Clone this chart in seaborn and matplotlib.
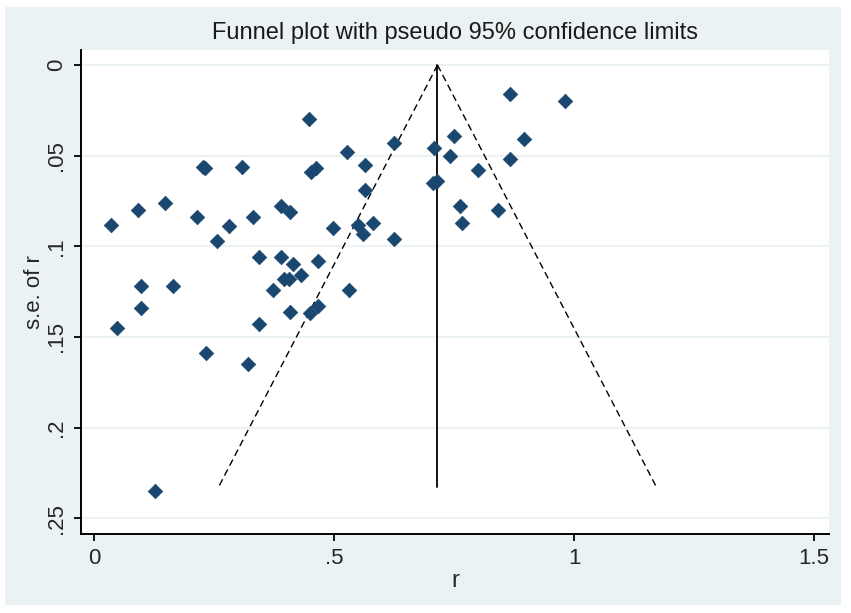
import numpy as np
import pandas as pd
import seaborn as sns
import matplotlib.pyplot as plt
from matplotlib.patches import Rectangle

# effect sizes (r) and their standard errors
r = [0.127, 0.035, 0.091, 0.148, 0.214, 0.227, 0.230, 0.308, 0.256, 0.280,
     0.331, 0.447, 0.451, 0.461, 0.526, 0.564, 0.564, 0.388, 0.407, 0.498,
     0.550, 0.559, 0.581, 0.625, 0.625, 0.343, 0.389, 0.414, 0.467, 0.395,
     0.405, 0.430, 0.097, 0.163, 0.373, 0.531, 0.097, 0.408, 0.449, 0.467,
     0.046, 0.343, 0.233, 0.321, 0.867, 0.980, 0.750, 0.896, 0.708, 0.742,
     0.867, 0.799, 0.705, 0.714, 0.761, 0.841, 0.766]
se = [0.235, 0.088, 0.080, 0.076, 0.084, 0.056, 0.057, 0.056, 0.097, 0.089,
      0.084, 0.030, 0.059, 0.057, 0.048, 0.055, 0.069, 0.078, 0.081, 0.090,
      0.088, 0.093, 0.087, 0.043, 0.096, 0.106, 0.106, 0.110, 0.108, 0.118,
      0.118, 0.116, 0.122, 0.122, 0.124, 0.124, 0.134, 0.136, 0.137, 0.133,
      0.145, 0.143, 0.159, 0.165, 0.016, 0.020, 0.039, 0.041, 0.046, 0.050,
      0.052, 0.058, 0.065, 0.064, 0.078, 0.080, 0.087]

pooled = 0.715   # fixed effect estimate (vertical line)
se_max = 0.233   # where the funnel stops

x_ticks = [0, 0.5, 1, 1.5]
x_labels = ["0", ".5", "1", "1.5"]
y_ticks = [0, 0.05, 0.1, 0.15, 0.2, 0.25]
y_labels = ["0", ".05", ".1", ".15", ".2", ".25"]

df = pd.DataFrame({"r": r, "se": se})

bg = "#eaf2f3"
navy = "#1a476f"

sns.set_style("white")
plt.rcParams["font.family"] = ["Liberation Sans", "DejaVu Sans"]

fig = plt.figure(figsize=(8.51, 6.13), dpi=100)
fig.patch.set_facecolor("white")
# light blue-gray outer area with thin white frame
fig.patches.append(Rectangle((5 / 851, 8 / 613), 836 / 851, 598 / 613,
                             transform=fig.transFigure, facecolor=bg,
                             edgecolor="none", zorder=-5))
ax = fig.add_axes([81 / 851, 1 - 534 / 613, 748 / 851, 484 / 613])
ax.set_facecolor("white")

# pseudo 95% limits
se_line = np.array([0, se_max])
ax.plot(pooled - 1.96 * se_line, se_line, color="black", lw=1, ls=(0, (5, 3)))
ax.plot(pooled + 1.96 * se_line, se_line, color="black", lw=1, ls=(0, (5, 3)))
ax.plot([pooled, pooled], se_line, color="black", lw=1.3)

sns.scatterplot(data=df, x="r", y="se", marker="D", s=55, color=navy,
                edgecolor=navy, linewidth=0.5, ax=ax, zorder=3)

ax.set_xlim(-0.028, 1.531)
ax.set_ylim(0.2587, -0.0083)
ax.set_xticks(x_ticks, x_labels, fontsize=16)
ax.set_yticks(y_ticks, y_labels, fontsize=16, rotation=90, va="center")
ax.yaxis.grid(True, color=bg, lw=1.5)
ax.set_axisbelow(True)
ax.tick_params(axis="both", direction="out", length=5, width=1.3,
               color="black", left=True, bottom=True, pad=5)

for side in ["top", "right"]:
    ax.spines[side].set_visible(False)
for side in ["left", "bottom"]:
    ax.spines[side].set_color("black")
    ax.spines[side].set_linewidth(1.4)

ax.set_xlabel("r", fontsize=17, labelpad=1)
ax.set_ylabel("s.e. of r", fontsize=16, labelpad=1)
ax.set_title("Funnel plot with pseudo 95% confidence limits", fontsize=17,
             pad=8, color="#1a1a1a")

fig.savefig("out.png", dpi=100, facecolor=fig.get_facecolor())
